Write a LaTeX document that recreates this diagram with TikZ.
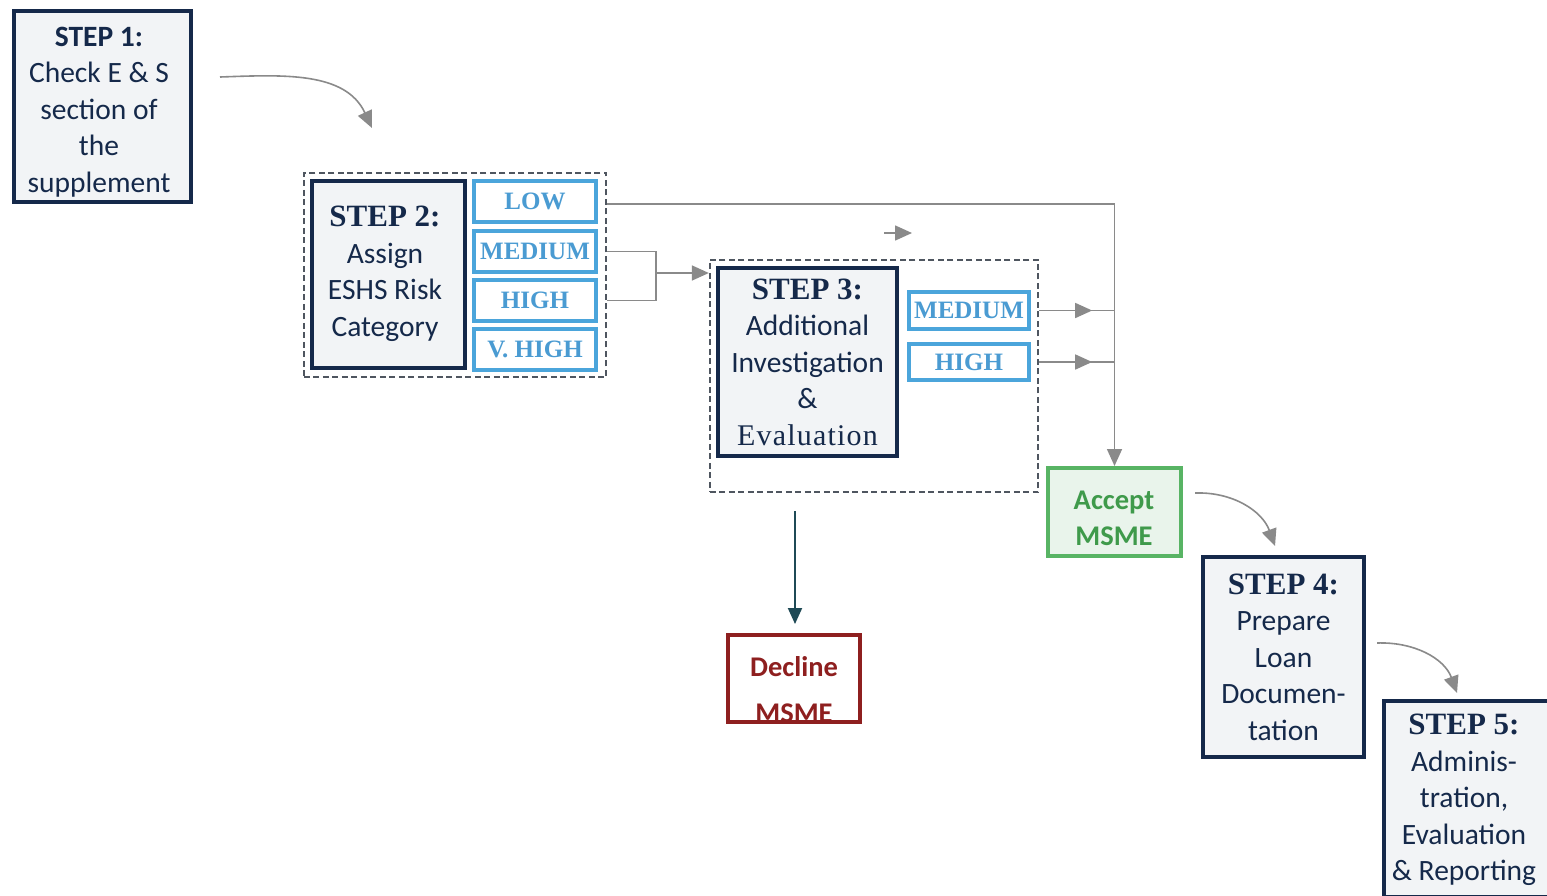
\documentclass[tikz,border=0pt]{standalone}
\usepackage{fontspec}
\setmainfont{Carlito}
\newfontfamily\tms{Liberation Serif}
\usetikzlibrary{arrows.meta}
\definecolor{navy}{HTML}{15294A}
\definecolor{boxfill}{HTML}{F2F4F6}
\definecolor{riskblue}{HTML}{4BA5DB}
\definecolor{risktext}{HTML}{4A9BD2}
\definecolor{acceptgreen}{HTML}{58B464}
\definecolor{acceptfill}{HTML}{E9F4EB}
\definecolor{accepttext}{HTML}{3F9A4B}
\definecolor{declred}{HTML}{8E1F1F}
\definecolor{arrowgrey}{HTML}{8A8A8A}
\definecolor{dashgrey}{HTML}{4F5660}
\definecolor{tealarrow}{HTML}{1F4A56}
\begin{document}
\begin{tikzpicture}[x=1pt,y=-1pt,
 stepbox/.style={draw=navy,line width=4pt,fill=boxfill,inner sep=0pt,align=center,text=navy,font=\fontsize{29.5}{36.5}\selectfont},
 steptext/.style={inner sep=0pt,align=center,text=navy,font=\fontsize{29.5}{36.5}\selectfont},
 riskbox/.style={draw=riskblue,line width=4pt,fill=white,inner sep=0pt,text=risktext,font=\tms\bfseries\fontsize{25}{30}\selectfont},
 groupbox/.style={draw=dashgrey,line width=1.8pt,dash pattern=on 6pt off 3.5pt,inner sep=0pt},
 gline/.style={draw=arrowgrey,line width=1.6pt},
 garrow/.style={gline,-{Triangle[length=17pt,width=15pt]}},
]
\fill[white] (0,0) rectangle (1547,895);
\useasboundingbox (0,0) rectangle (1547,895);

% group boxes
\node[groupbox,minimum width=302.5pt,minimum height=204.5pt] (dash2) at (455,275) {};
\node[groupbox,minimum width=328.5pt,minimum height=232.5pt] (dash3) at (874,376) {};

% step boxes
\node[stepbox,minimum width=177pt,minimum height=191pt] (s1) at (102.5,106.5) {};
\node[steptext] (s1text) at (99,112)
  {\textbf{STEP 1:}\\Check E \& S\\section of\\the\\supplement};
\node[stepbox,minimum width=153pt,minimum height=187pt] (s2) at (388.5,274.5) {};
\node[steptext] (s2text) at (385,274)
  {{\tms\bfseries\fontsize{31}{36}\selectfont STEP 2:}\\Assign\\ESHS Risk\\Category};
\node[stepbox,minimum width=179pt,minimum height=188pt] (s3) at (807.5,362)
  {{\tms\bfseries\fontsize{31}{36}\selectfont STEP 3:}\\Additional\\Investigation\\\&\\{\tms\fontsize{30}{36}\selectfont\addfontfeature{LetterSpace=4}Evaluation}};
\node[stepbox,minimum width=161pt,minimum height=200pt] (s4) at (1283.5,657)
  {{\tms\bfseries\fontsize{31}{36}\selectfont STEP 4:}\\Prepare\\Loan\\Documen-\\tation};
\node[stepbox,minimum width=167pt,minimum height=196pt] (s5) at (1467.5,799) {};
\node[steptext] (s5text) at (1464,800)
  {{\tms\bfseries\fontsize{31}{36}\selectfont STEP 5:}\\Adminis-\\tration,\\Evaluation\\\& Reporting};

% risk boxes step 2
\node[riskbox,minimum width=122pt,minimum height=41pt] (low) at (535,201.5) {LOW};
\node[riskbox,minimum width=122pt,minimum height=41pt] (med) at (535,251.5) {MEDIUM};
\node[riskbox,minimum width=122pt,minimum height=41pt] (high) at (535,300.5) {HIGH};
\node[riskbox,minimum width=122pt,minimum height=41pt] (vhigh) at (535,349.5) {V. HIGH};

% risk boxes step 3
\node[riskbox,minimum width=120pt,minimum height=37pt] (med3) at (969,310.5) {MEDIUM};
\node[riskbox,minimum width=120pt,minimum height=36pt] (high3) at (969,362) {HIGH};

% accept / decline
\node[draw=acceptgreen,line width=4pt,fill=acceptfill,inner sep=0pt,minimum width=133pt,minimum height=88pt] (accept) at (1114.5,512) {};
\node[align=center,text=accepttext,inner sep=0pt,font=\bfseries\fontsize{28.5}{36}\selectfont] (accepttext) at (1114,518) {Accept\\MSME};
\node[draw=declred,line width=4pt,fill=white,inner sep=0pt,minimum width=132pt,minimum height=87pt] (decline) at (794,678.5) {};
\node[align=center,text=declred,inner sep=0pt,font=\bfseries\fontsize{28.5}{46}\selectfont] (decltext) at (794,690) {Decline\\MSME};

% coordinates
\coordinate (c1s) at (220,77);
\coordinate (c1e) at (372,128);
\coordinate (c2s) at (1195,493);
\coordinate (c2e) at (1275,546);
\coordinate (c3s) at (1377,643);
\coordinate (c3e) at (1457,693);
\coordinate (j) at (656,273);
\coordinate (sa) at (884,233);
\coordinate (sb) at (912,233);
\coordinate (d0) at (795,511);
\coordinate (lowline) at (607,204);

% connectors
\draw[garrow] (c1s) to[out=2,in=115] (c1e);
\draw[garrow] (c2s) to[out=2,in=110] (c2e);
\draw[garrow] (c3s) to[out=2,in=110] (c3e);

\draw[garrow] (lowline) -| (accept.north);
\draw[gline] (dash2.east |- med) -| (j);
\draw[gline] (dash2.east |- high) -| (j);
\draw[garrow] (j) -- (dash3.west |- j);
\draw[garrow] (sa) -- (sb);

\draw[gline] (dash3.east |- med3) -- (accept.north |- med3);
\draw[garrow] (dash3.east |- med3) -- ++(53,0);
\draw[gline] (dash3.east |- high3) -- (accept.north |- high3);
\draw[garrow] (dash3.east |- high3) -- ++(53,0);

\draw[draw=tealarrow,line width=2pt,-{Triangle[length=16pt,width=14pt]},shorten >=9pt] (d0) -- (decline.north -| d0);
\end{tikzpicture}
\end{document}
